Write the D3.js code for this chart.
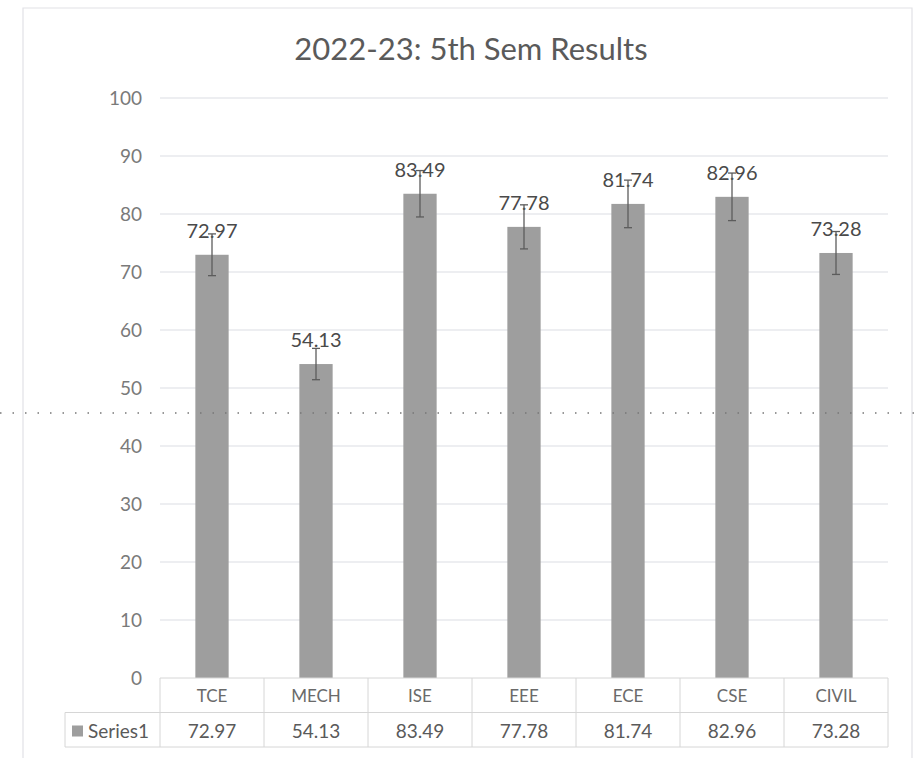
<!DOCTYPE html>
<html>
<head>
<meta charset="utf-8">
<script src="https://cdn.jsdelivr.net/npm/d3@7"></script>
<style>
  body { margin: 0; background: #fff; }
  svg { display: block; font-family: Lato, "Open Sans", sans-serif; }
</style>
</head>
<body>
<svg id="chart" width="917" height="758"></svg>
<script>
// chart values
var departments = ["TCE", "MECH", "ISE", "EEE", "ECE", "CSE", "CIVIL"];
var results = [72.97, 54.13, 83.49, 77.78, 81.74, 82.96, 73.28];
var errorAmounts = [3.6, 2.7, 4.0, 3.8, 4.1, 4.1, 3.7];
var yTicks = [0, 10, 20, 30, 40, 50, 60, 70, 80, 90, 100];
var seriesName = "Series1";
var chartTitle = "2022-23: 5th Sem Results";

var svg = d3.select("#chart");

var plot = {left: 160, right: 888, top: 98, bottom: 678};
var rowH = 34.5;
var barColor = "#9e9e9e";

var x = d3.scaleBand()
    .domain(departments)
    .range([plot.left, plot.right])
    .paddingInner(0.68)
    .paddingOuter(0.34);

var y = d3.scaleLinear()
    .domain([0, 100])
    .range([plot.bottom, plot.top]);

var data = departments.map(function(d, i) {
  return {name: d, value: results[i], err: errorAmounts[i]};
});

// outer chart frame
svg.append("path")
    .attr("d", "M23,770 V8 H912 V770")
    .attr("fill", "none")
    .attr("stroke", "#e2e2e6")
    .attr("stroke-width", 1.2);

// title
svg.append("text")
    .attr("x", 471)
    .attr("y", 60)
    .attr("text-anchor", "middle")
    .attr("font-size", 31)
    .attr("fill", "#5a5a5a")
    .text(chartTitle);

// gridlines
svg.append("g")
  .selectAll("line")
  .data(yTicks.filter(function(t) { return t > 0; }))
  .enter().append("line")
    .attr("x1", plot.left)
    .attr("x2", plot.right)
    .attr("y1", function(d) { return y(d); })
    .attr("y2", function(d) { return y(d); })
    .attr("stroke", "#dcdde4")
    .attr("stroke-width", 1.2);

// y axis labels
var yAxis = svg.append("g")
    .attr("transform", "translate(" + plot.left + ",0)")
    .call(d3.axisLeft(y).tickValues(yTicks).tickSize(0).tickPadding(18));
yAxis.select(".domain").remove();
yAxis.selectAll("text")
    .attr("font-family", "Lato, 'Open Sans', sans-serif")
    .attr("font-size", 19)
    .attr("fill", "#7a7a7a");

// bars
svg.append("g")
  .selectAll("rect")
  .data(data)
  .enter().append("rect")
    .attr("x", function(d) { return x(d.name); })
    .attr("width", x.bandwidth())
    .attr("y", function(d) { return y(d.value); })
    .attr("height", function(d) { return y(0) - y(d.value); })
    .attr("fill", barColor);

// data labels
svg.append("g")
  .selectAll("text")
  .data(data)
  .enter().append("text")
    .attr("x", function(d) { return x(d.name) + x.bandwidth() / 2; })
    .attr("y", function(d) { return y(d.value) - 17; })
    .attr("text-anchor", "middle")
    .attr("font-size", 20)
    .attr("fill", "#4a4a4a")
    .text(function(d) { return d.value.toFixed(2); });

// error bars
var eb = svg.append("g")
    .attr("stroke", "#5c5c5c")
    .attr("stroke-width", 1.3);

eb.selectAll(".stem")
  .data(data)
  .enter().append("line")
    .attr("class", "stem")
    .attr("x1", function(d) { return x(d.name) + x.bandwidth() / 2; })
    .attr("x2", function(d) { return x(d.name) + x.bandwidth() / 2; })
    .attr("y1", function(d) { return y(d.value + d.err); })
    .attr("y2", function(d) { return y(d.value - d.err); });

eb.selectAll(".cap")
  .data(data.flatMap(function(d) {
    return [{name: d.name, v: d.value + d.err}, {name: d.name, v: d.value - d.err}];
  }))
  .enter().append("line")
    .attr("class", "cap")
    .attr("x1", function(d) { return x(d.name) + x.bandwidth() / 2 - 4; })
    .attr("x2", function(d) { return x(d.name) + x.bandwidth() / 2 + 4; })
    .attr("y1", function(d) { return y(d.v); })
    .attr("y2", function(d) { return y(d.v); });

// data table under the axis
var table = svg.append("g");
var tableStroke = "#d6d6d6";
var legendLeft = 65;

table.append("line")
    .attr("x1", plot.left).attr("x2", plot.right)
    .attr("y1", plot.bottom).attr("y2", plot.bottom)
    .attr("stroke", tableStroke);

[plot.bottom + rowH, plot.bottom + 2 * rowH].forEach(function(yy) {
  table.append("line")
      .attr("x1", legendLeft).attr("x2", plot.right)
      .attr("y1", yy).attr("y2", yy)
      .attr("stroke", tableStroke);
});

table.append("line")
    .attr("x1", legendLeft).attr("x2", legendLeft)
    .attr("y1", plot.bottom + rowH).attr("y2", plot.bottom + 2 * rowH)
    .attr("stroke", tableStroke);

var step = x.step();
table.selectAll(".vline")
  .data(d3.range(departments.length + 1))
  .enter().append("line")
    .attr("class", "vline")
    .attr("x1", function(i) { return plot.left + i * step; })
    .attr("x2", function(i) { return plot.left + i * step; })
    .attr("y1", plot.bottom)
    .attr("y2", plot.bottom + 2 * rowH)
    .attr("stroke", tableStroke);

table.selectAll(".cat")
  .data(data)
  .enter().append("text")
    .attr("class", "cat")
    .attr("x", function(d) { return x(d.name) + x.bandwidth() / 2; })
    .attr("y", plot.bottom + 24)
    .attr("text-anchor", "middle")
    .attr("font-size", 17)
    .attr("fill", "#6a6a6a")
    .text(function(d) { return d.name; });

table.selectAll(".val")
  .data(data)
  .enter().append("text")
    .attr("class", "val")
    .attr("x", function(d) { return x(d.name) + x.bandwidth() / 2; })
    .attr("y", plot.bottom + rowH + 25)
    .attr("text-anchor", "middle")
    .attr("font-size", 19)
    .attr("fill", "#5a5a5a")
    .text(function(d) { return d.value.toFixed(2); });

// legend key inside the table
table.append("rect")
    .attr("x", 72).attr("y", plot.bottom + rowH + 13)
    .attr("width", 11).attr("height", 11)
    .attr("fill", barColor);

table.append("text")
    .attr("x", 88)
    .attr("y", plot.bottom + rowH + 25)
    .attr("font-size", 19)
    .attr("fill", "#5a5a5a")
    .text(seriesName);

// dotted fold line left by the scanner
svg.append("line")
    .attr("x1", 0).attr("x2", 917)
    .attr("y1", 413).attr("y2", 413)
    .attr("stroke", "#777")
    .attr("stroke-width", 1.5)
    .attr("stroke-dasharray", "1.5,11");
</script>
</body>
</html>
